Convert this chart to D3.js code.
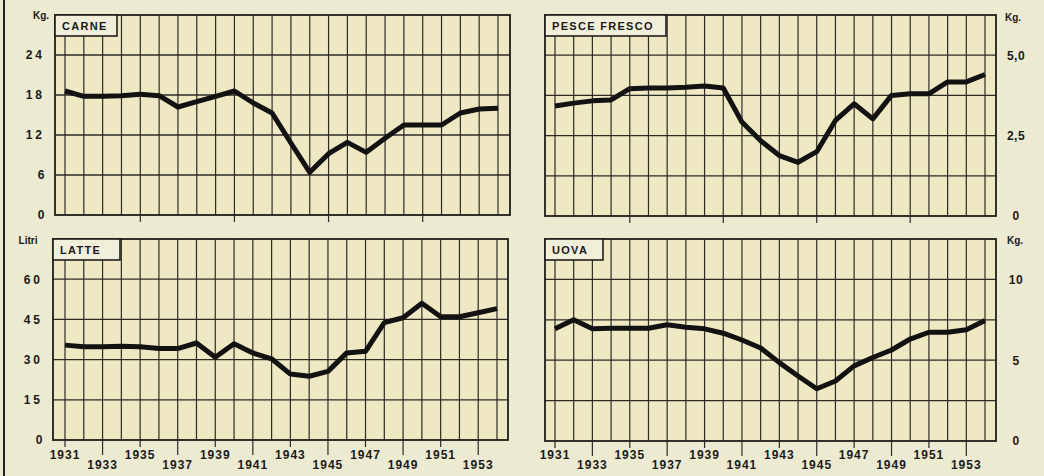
<!DOCTYPE html>
<html>
<head>
<meta charset="utf-8">
<script src="https://cdn.jsdelivr.net/npm/d3@7"></script>
<style>
  body { margin: 0; background: #ecead0; }
  svg { display: block; }
  text { font-family: "Liberation Sans", Arial, sans-serif; font-weight: bold; fill: #1a1a1a; }
</style>
</head>
<body>
<script>
// yearly values, 1931-1954
const years = d3.range(1931, 1955);
const carne = [18.6, 17.8, 17.8, 17.9, 18.1, 17.9, 16.2, 17.0, 17.8, 18.6, 16.8, 15.3, 10.8, 6.4, 9.2, 10.9, 9.4, 11.5, 13.5, 13.5, 13.5, 15.3, 15.9, 16.0];
const pesce = [3.42, 3.51, 3.58, 3.61, 3.96, 3.98, 3.98, 4.0, 4.04, 3.98, 2.92, 2.34, 1.88, 1.67, 2.0, 2.97, 3.49, 3.02, 3.75, 3.8, 3.8, 4.17, 4.17, 4.4];
const latte = [35.4, 34.8, 34.8, 35.0, 34.8, 34.1, 34.1, 36.2, 30.9, 35.9, 32.5, 30.3, 24.6, 23.8, 25.6, 32.5, 33.1, 43.8, 45.6, 51.0, 46.0, 46.0, 47.5, 49.0];
const uova = [6.94, 7.5, 6.94, 6.98, 6.98, 6.98, 7.19, 7.04, 6.94, 6.67, 6.25, 5.75, 4.85, 4.02, 3.23, 3.71, 4.65, 5.17, 5.63, 6.31, 6.73, 6.73, 6.88, 7.46];

const carneTicks = [0, 6, 12, 18, 24];
const carneLabels = ["0", "6", "12", "18", "24"];
const pesceTicks = [0, 2.5, 5];
const pesceLabels = ["0", "2,5", "5,0"];
const pesceGrid = [1.25, 2.5, 3.75, 5];
const latteTicks = [0, 15, 30, 45, 60];
const latteLabels = ["0", "15", "30", "45", "60"];
const uovaTicks = [0, 5, 10];
const uovaLabels = ["0", "5", "10"];
const uovaGrid = [2.5, 5, 7.5, 10];
const topTickYears = [1935, 1940, 1945, 1950];
const labelYears = d3.range(1931, 1955, 2);

const W = 1044, H = 476;
const svg = d3.select("body").append("svg").attr("width", W).attr("height", H);

svg.append("rect").attr("width", W).attr("height", H).attr("fill", "#ecead0");
svg.append("line").attr("x1", 4).attr("x2", 4).attr("y1", 0).attr("y2", H)
  .attr("stroke", "#222").attr("stroke-width", 2);

const panels = [
  { name: "CARNE", values: carne, box: [55, 510, 15, 215], xr: [65, 498], max: 30,
    grid: [6, 12, 18, 24], ticks: carneTicks, labels: carneLabels, side: "left",
    unit: "Kg.", unitPos: [41, 19], titleW: 62, bottom: false },
  { name: "PESCE FRESCO", values: pesce, box: [545, 996, 15, 216], xr: [555, 985], max: 6.25,
    grid: pesceGrid, ticks: pesceTicks, labels: pesceLabels, side: "right",
    unit: "Kg.", unitPos: [1013, 21], titleW: 121, bottom: false },
  { name: "LATTE", values: latte, box: [53, 508, 239, 440], xr: [65, 497], max: 75,
    grid: [15, 30, 45, 60], ticks: latteTicks, labels: latteLabels, side: "left",
    unit: "Litri", unitPos: [28, 244], titleW: 67, bottom: true },
  { name: "UOVA", values: uova, box: [545, 996, 239, 441], xr: [555, 985], max: 12.5,
    grid: uovaGrid, ticks: uovaTicks, labels: uovaLabels, side: "right",
    unit: "Kg.", unitPos: [1015, 244], titleW: 58, bottom: true }
];

panels.forEach(p => {
  const [x0, x1, y0, y1] = p.box;
  const x = d3.scaleLinear().domain([1931, 1954]).range(p.xr);
  const y = d3.scaleLinear().domain([0, p.max]).range([y1, y0]);
  const g = svg.append("g");

  g.append("rect").attr("x", x0).attr("y", y0).attr("width", x1 - x0).attr("height", y1 - y0)
    .attr("fill", "#efe9c3");

  // vertical grid, one line per year
  g.selectAll(".vg").data(years).enter().append("line")
    .attr("x1", d => x(d)).attr("x2", d => x(d))
    .attr("y1", y0).attr("y2", y1)
    .attr("stroke", "#2b2b26").attr("stroke-width", 1.2);

  g.selectAll(".hg").data(p.grid).enter().append("line")
    .attr("x1", x0).attr("x2", x1)
    .attr("y1", d => y(d)).attr("y2", d => y(d))
    .attr("stroke", "#2b2b26").attr("stroke-width", 1.3);

  g.append("rect").attr("x", x0).attr("y", y0).attr("width", x1 - x0).attr("height", y1 - y0)
    .attr("fill", "none").attr("stroke", "#1e1e1a").attr("stroke-width", 1.8);

  // y labels
  g.selectAll(".yl").data(p.ticks).enter().append("text")
    .attr("x", p.side === "left" ? x0 - 10 : 1016)
    .attr("y", d => y(d))
    .attr("dy", "0.36em")
    .attr("text-anchor", p.side === "left" ? "end" : "middle")
    .style("font-size", "12px")
    .style("letter-spacing", (d, i) => p.labels[i].length > 1 && p.side === "left" ? "3px" : "0.5px")
    .text((d, i) => p.labels[i]);

  g.append("text").attr("x", p.unitPos[0]).attr("y", p.unitPos[1])
    .attr("text-anchor", "middle").style("font-size", "10px").text(p.unit);

  // title box
  g.append("rect").attr("x", x0).attr("y", y0).attr("width", p.titleW).attr("height", 21)
    .attr("fill", "#f1eed9").attr("stroke", "#1e1e1a").attr("stroke-width", 1.6);
  g.append("text").attr("x", x0 + 7).attr("y", y0 + 15)
    .style("font-size", "11px").style("letter-spacing", "1.3px").text(p.name);

  // x ticks
  if (p.bottom) {
    g.selectAll(".xt").data(labelYears).enter().append("line")
      .attr("x1", d => x(d)).attr("x2", d => x(d))
      .attr("y1", y1).attr("y2", (d, i) => y1 + (i % 2 ? 15 : 7))
      .attr("stroke", "#2b2b26").attr("stroke-width", 1.2);
    g.selectAll(".xl").data(labelYears).enter().append("text")
      .attr("x", d => x(d))
      .attr("y", (d, i) => i % 2 ? 469 : 459)
      .attr("text-anchor", "middle")
      .style("font-size", "12px").style("letter-spacing", "1px")
      .text(d => d);
  } else {
    g.selectAll(".xt").data(topTickYears).enter().append("line")
      .attr("x1", d => x(d)).attr("x2", d => x(d))
      .attr("y1", y1).attr("y2", y1 + 7)
      .attr("stroke", "#2b2b26").attr("stroke-width", 1.2);
  }

  const line = d3.line().x((d, i) => x(years[i])).y(d => y(d));
  g.append("path").datum(p.values).attr("d", line)
    .attr("fill", "none").attr("stroke", "#121212").attr("stroke-width", 5)
    .attr("stroke-linejoin", "round");
});
</script>
</body>
</html>
